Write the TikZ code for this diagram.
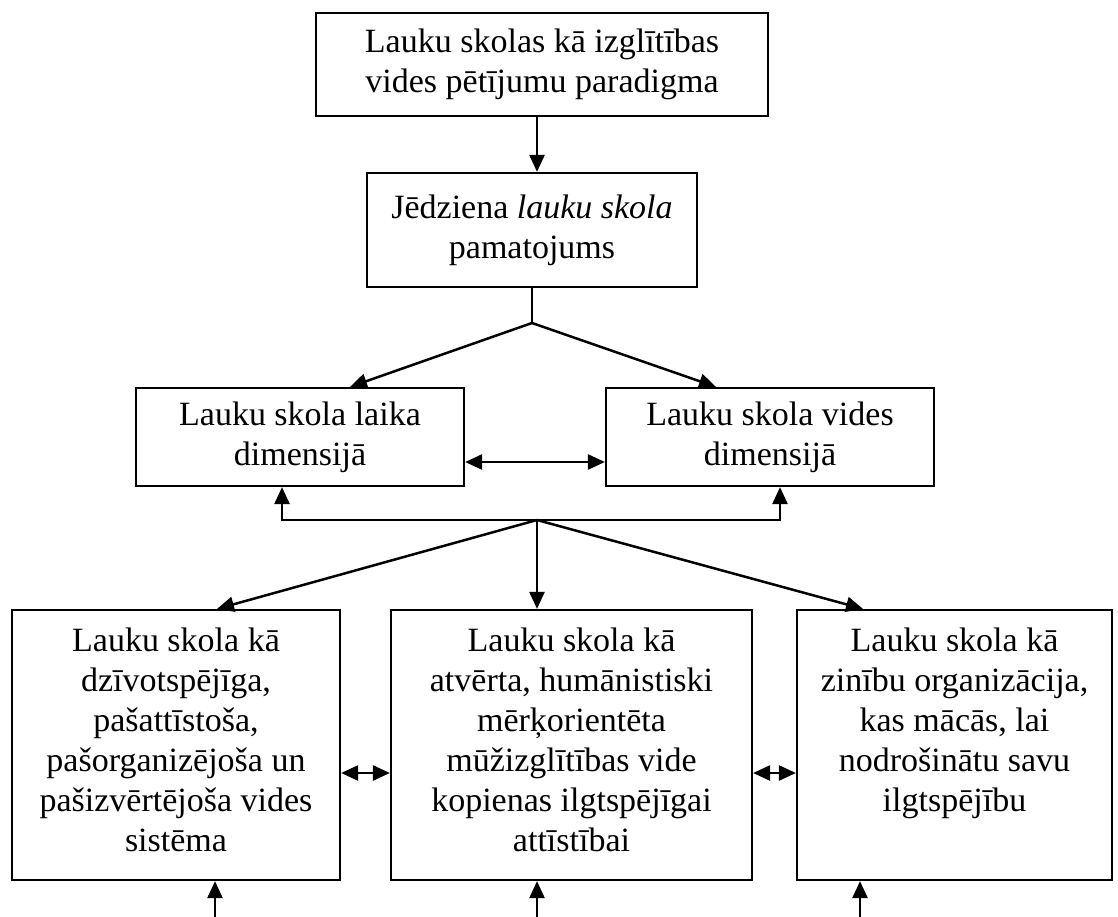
\documentclass[tikz,border=0pt]{standalone}
\usepackage{fontspec}
\setmainfont{Liberation Serif}
\usetikzlibrary{arrows.meta}
\begin{document}
\begin{tikzpicture}[x=1pt,y=-1pt,
  every node/.style={font=\fontsize{34}{40}\selectfont},
  box/.style={draw, line width=2.2pt, align=center, inner sep=0pt},
  link/.style={line width=2.5pt},
  arr/.style={link, -{Triangle[length=17pt,width=15pt]}},
  both/.style={link, {Triangle[length=17pt,width=15pt]}-{Triangle[length=17pt,width=15pt]}}]
\useasboundingbox (0,0) rectangle (1118,917);

% upper chain
\node[box, minimum width=452pt, minimum height=103pt] (b1) at (542,64.5)
  {Lauku skolas kā izglītības\\vides pētījumu paradigma};
\node[box, minimum width=330pt, minimum height=114pt] (b2) at (532,230)
  {Jēdziena \textit{lauku skola}\\pamatojums};
\node[box, minimum width=328pt, minimum height=98pt] (b3) at (300,437)
  {\raisebox{-3pt}{\parbox{328pt}{\centering Lauku skola laika\\dimensijā}}};
\node[box, minimum width=328pt, minimum height=98pt] (b4) at (770,437)
  {\raisebox{-3pt}{\parbox{328pt}{\centering Lauku skola vides\\dimensijā}}};

% lower row, text set from the top
\node[box] (b5) at (176,745)
  {\parbox[c][270pt][t]{328pt}{\centering\vspace*{18pt}Lauku skola kā\\dzīvotspējīga,\\pašattīstoša,\\pašorganizējoša un\\pašizvērtējoša vides\\sistēma}};
\node[box] (b6) at (571.5,745)
  {\parbox[c][270pt][t]{361pt}{\centering\vspace*{18pt}Lauku skola kā\\atvērta, humānistiski\\mērķorientēta\\mūžizglītības vide\\kopienas ilgtspējīgai\\attīstībai}};
\node[box] (b7) at (954.5,745)
  {\parbox[c][270pt][t]{315pt}{\centering\vspace*{18pt}Lauku skola kā\\zinību organizācija,\\kas mācās, lai\\nodrošinātu savu\\ilgtspējību}};

% junctions and free ends
\coordinate (s1) at (532,323);
\coordinate (s2) at (537,520);
\coordinate (e5) at (215,917);
\coordinate (e6) at (537,917);
\coordinate (e7) at (860,917);

% connectors
\draw[arr] ([xshift=-5pt]b1.south) -- ([xshift=5pt]b2.north);
\draw[link] (b2.south) -- (s1);
\draw[arr] (s1) -- ([xshift=50pt]b3.north);
\draw[arr] (s1) -- ([xshift=-54pt]b4.north);
\draw[both] ([yshift=-25pt]b3.east) -- ([yshift=-25pt]b4.west);

\draw[arr] (s2) -| ([xshift=-18pt]b3.south);
\draw[arr] (s2) -| ([xshift=10pt]b4.south);
\draw[arr] (s2) -- ([xshift=41pt]b5.north);
\draw[arr] (s2) -- ([xshift=-34.5pt]b6.north);
\draw[arr] (s2) -- ([xshift=-91.5pt]b7.north);

\draw[both] ([yshift=-28pt]b5.east) -- ([yshift=-28pt]b6.west);
\draw[both] ([yshift=-28pt]b6.east) -- ([yshift=-28pt]b7.west);

\draw[arr] (e5) -- (e5 |- b5.south);
\draw[arr] (e6) -- (e6 |- b6.south);
\draw[arr] (e7) -- (e7 |- b7.south);
\end{tikzpicture}
\end{document}
